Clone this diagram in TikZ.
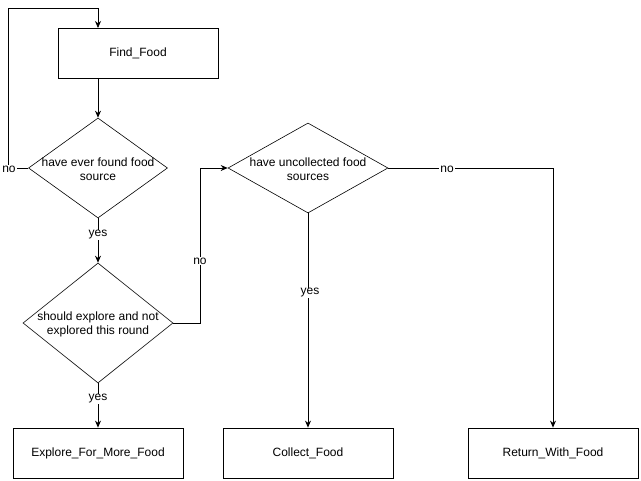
\documentclass[tikz,border=0pt]{standalone}
\usepackage{fontspec}
\setmainfont{Liberation Sans}
\usetikzlibrary{shapes.geometric,arrows.meta}

\begin{document}
\begin{tikzpicture}[x=1pt,y=-1pt,line width=0.8pt,
  process/.style={draw,rectangle,minimum width=160pt,minimum height=50pt,inner sep=0pt},
  decision/.style={draw,diamond,inner sep=0pt,line width=0.6pt},
  lbl/.style={fill=white,inner sep=1pt,font=\fontsize{12}{14}\selectfont},
  flow/.style={-{Stealth[length=7pt,width=6pt]}},
  font=\fontsize{12}{14}\selectfont]
\useasboundingbox (0,0) rectangle (641,481);
% boxes
\node[process] (find) at (138,53) {Find\_Food};
\node[process,minimum width=170pt] (explore) at (98,453) {Explore\_For\_More\_Food};
\node[process,minimum width=170pt] (collect) at (308,453) {Collect\_Food};
\node[process,minimum width=170pt] (ret) at (553,453) {Return\_With\_Food};
% decisions
\node[decision,minimum width=139pt,minimum height=100pt] (found) at (98,168) {};
\node[align=center] at (98,169) {have ever found food\\source};
\node[decision,minimum width=150pt,minimum height=120pt] (should) at (98,323) {};
\node[align=center] at (98,324) {should explore and not\\explored this round};
\node[decision,minimum width=160pt,minimum height=90pt] (uncol) at (308,168) {};
\node[align=center] at (308,169) {have uncollected food\\sources};
% connectors
\coordinate (loopl) at (8,168);
\coordinate (loopt) at (8,8);
\coordinate (bend) at (200,323);
\draw[flow] (found.west) -- (loopl) -- (loopt) -- (98,8) -- (98,28);
\draw[flow] (98,78) -- (found.north);
\draw[flow] (found.south) -- (should.north);
\draw[flow] (should.south) -- (explore.north);
\draw[flow] (should.east) -- (bend) |- (uncol.west);
\draw[flow] (uncol.south) -- (collect.north);
\draw[flow] (uncol.east) -| (ret.north);
% labels
\node[lbl] at (9,169) {no};
\node[lbl] at (98,235) {yes};
\node[lbl] at (98,399) {yes};
\node[lbl] at (200,261) {no};
\node[lbl] at (310,293) {yes};
\node[lbl] at (447,169) {no};
\end{tikzpicture}
\end{document}
